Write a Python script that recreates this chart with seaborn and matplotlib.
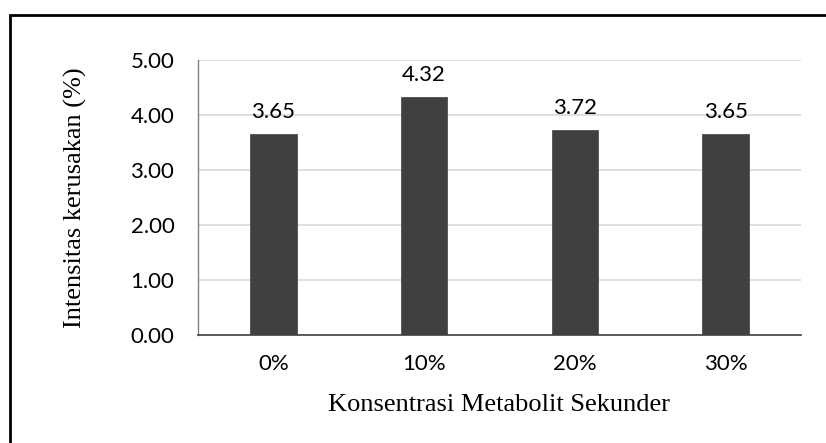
import matplotlib
matplotlib.use("Agg")
import matplotlib.pyplot as plt
import seaborn as sns
import pandas as pd
from matplotlib.patches import Rectangle

categories = ["0%", "10%", "20%", "30%"]
values = [3.65, 4.32, 3.72, 3.65]
y_ticks = [0, 1, 2, 3, 4, 5]

df = pd.DataFrame({"konsentrasi": categories, "intensitas": values})

sns.set_theme(style="white")
plt.rcParams["font.family"] = ["Lato", "DejaVu Sans"]

W, H = 826, 443
fig = plt.figure(figsize=(W / 100, H / 100), dpi=100)
ax = fig.add_axes([198 / W, 1 - 335 / H, (801 - 198) / W, (335 - 60) / H])

sns.barplot(data=df, x="konsentrasi", y="intensitas", color="#404040",
            saturation=1, width=0.31, ax=ax, zorder=3)
for p in ax.patches:
    p.set_edgecolor("#404040")
    p.set_linewidth(0.5)

ax.set_ylim(0, 5)
ax.set_yticks(y_ticks)
ax.set_yticklabels([f"{t:.2f}" for t in y_ticks])
ax.yaxis.grid(True, color="#d9d9d9", linewidth=1.2, zorder=0)
ax.set_axisbelow(True)

for s in ["top", "right"]:
    ax.spines[s].set_visible(False)
ax.spines["left"].set_color("#808080")
ax.spines["left"].set_linewidth(1.0)
ax.spines["bottom"].set_color("#404040")
ax.spines["bottom"].set_linewidth(1.2)

ax.tick_params(axis="both", length=0, labelsize=16, colors="black")
ax.tick_params(axis="y", pad=17)
ax.tick_params(axis="x", pad=14)

for i, v in enumerate(values):
    ax.annotate(f"{v:.2f}", (i, v), xytext=(0, 9), textcoords="offset points",
                ha="center", va="bottom", fontsize=16, color="black")

ax.set_xlabel("Konsentrasi Metabolit Sekunder", family="Liberation Serif",
              fontsize=19, labelpad=14, color="black")
ax.set_ylabel("Intensitas kerusakan (%)", family="Liberation Serif",
              fontsize=19, labelpad=31, color="black")

# outer frame around the chart
fig.patches.append(Rectangle((10 / W, -0.1), 1.2, 1 - 15 / H + 0.1,
                             transform=fig.transFigure, fill=False,
                             edgecolor="black", linewidth=2, zorder=10))

fig.savefig("out.png", dpi=100)
